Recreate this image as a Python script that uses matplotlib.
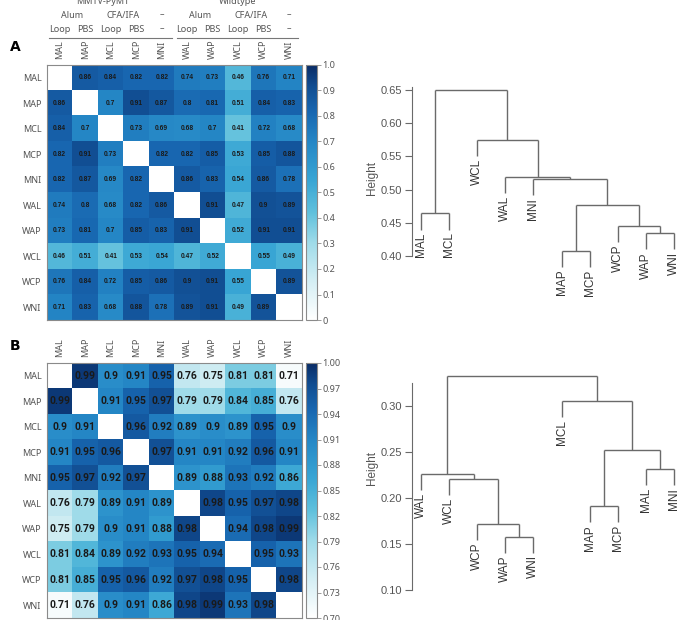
import numpy as np
import matplotlib
matplotlib.use("Agg")
import matplotlib.pyplot as plt
from matplotlib.colors import LinearSegmentedColormap

W, H = 686, 620

samples = ["MAL", "MAP", "MCL", "MCP", "MNI", "WAL", "WAP", "WCL", "WCP", "WNI"]

# panel A correlations (diagonal left blank)
corr_a = [
    [None, 0.86, 0.84, 0.82, 0.82, 0.74, 0.73, 0.46, 0.76, 0.71],
    [0.86, None, 0.7, 0.91, 0.87, 0.8, 0.81, 0.51, 0.84, 0.83],
    [0.84, 0.7, None, 0.73, 0.69, 0.68, 0.7, 0.41, 0.72, 0.68],
    [0.82, 0.91, 0.73, None, 0.82, 0.82, 0.85, 0.53, 0.85, 0.88],
    [0.82, 0.87, 0.69, 0.82, None, 0.86, 0.83, 0.54, 0.86, 0.78],
    [0.74, 0.8, 0.68, 0.82, 0.86, None, 0.91, 0.47, 0.9, 0.89],
    [0.73, 0.81, 0.7, 0.85, 0.83, 0.91, None, 0.52, 0.91, 0.91],
    [0.46, 0.51, 0.41, 0.53, 0.54, 0.47, 0.52, None, 0.55, 0.49],
    [0.76, 0.84, 0.72, 0.85, 0.86, 0.9, 0.91, 0.55, None, 0.89],
    [0.71, 0.83, 0.68, 0.88, 0.78, 0.89, 0.91, 0.49, 0.89, None],
]

# panel B correlations
corr_b = [
    [None, 0.99, 0.9, 0.91, 0.95, 0.76, 0.75, 0.81, 0.81, 0.71],
    [0.99, None, 0.91, 0.95, 0.97, 0.79, 0.79, 0.84, 0.85, 0.76],
    [0.9, 0.91, None, 0.96, 0.92, 0.89, 0.9, 0.89, 0.95, 0.9],
    [0.91, 0.95, 0.96, None, 0.97, 0.91, 0.91, 0.92, 0.96, 0.91],
    [0.95, 0.97, 0.92, 0.97, None, 0.89, 0.88, 0.93, 0.92, 0.86],
    [0.76, 0.79, 0.89, 0.91, 0.89, None, 0.98, 0.95, 0.97, 0.98],
    [0.75, 0.79, 0.9, 0.91, 0.88, 0.98, None, 0.94, 0.98, 0.99],
    [0.81, 0.84, 0.89, 0.92, 0.93, 0.95, 0.94, None, 0.95, 0.93],
    [0.81, 0.85, 0.95, 0.96, 0.92, 0.97, 0.98, 0.95, None, 0.98],
    [0.71, 0.76, 0.9, 0.91, 0.86, 0.98, 0.99, 0.93, 0.98, None],
]

cbar_ticks_a = [0, 0.1, 0.2, 0.3, 0.4, 0.5, 0.6, 0.7, 0.8, 0.9, 1.0]
cbar_labels_a = ["0", "0.1", "0.2", "0.3", "0.4", "0.5", "0.6", "0.7", "0.8", "0.9", "1.0"]
cbar_ticks_b = [0.70, 0.73, 0.76, 0.79, 0.82, 0.85, 0.88, 0.91, 0.94, 0.97, 1.00]

# header above panel A
groups = ["MMTV-PyMT", "Wildtype"]
adjuvants = ["Alum", "CFA/IFA", "–"]
treatments = ["Loop", "PBS", "Loop", "PBS", "–"]

# hierarchical clustering: (left, right, height); ints refer to earlier merges
merges_a = [
    ("MAP", "MCP", 0.408),
    ("WAP", "WNI", 0.434),
    ("WCP", 1, 0.445),
    ("MAL", "MCL", 0.464),
    (0, 2, 0.476),
    ("MNI", 4, 0.5155),
    ("WAL", 5, 0.519),
    ("WCL", 6, 0.574),
    (3, 7, 0.65),
]
merges_b = [
    ("WAP", "WNI", 0.158),
    ("WCP", 0, 0.172),
    ("MAP", "MCP", 0.191),
    ("WCL", 1, 0.220),
    ("WAL", 3, 0.226),
    ("MAL", "MNI", 0.231),
    (2, 5, 0.252),
    ("MCL", 6, 0.305),
    (4, 7, 0.332),
]
dendro_ticks_a = [0.40, 0.45, 0.50, 0.55, 0.60, 0.65]
dendro_ticks_b = [0.10, 0.15, 0.20, 0.25, 0.30]

cmap = LinearSegmentedColormap.from_list("corr", [
    (0.0, "#ffffff"), (0.15, "#d4eef4"), (0.3, "#9fdbe9"), (0.42, "#5fc0dc"),
    (0.55, "#38a5d4"), (0.7, "#2587c6"), (0.82, "#1866b0"), (0.92, "#114c90"),
    (1.0, "#0a2c66")])
cmap.set_bad("white")

GRAY = "#555555"
FRAME = "#8a8a8a"


def px_axes(fig, x0, y0, x1, y1):
    return fig.add_axes([x0 / W, 1 - y1 / H, (x1 - x0) / W, (y1 - y0) / H])


def heatmap(fig, box, cbox, corr, vmin, vmax, ticks, ticklabels, fs, family):
    ax = px_axes(fig, *box)
    m = np.array([[np.nan if v is None else v for v in row] for row in corr])
    im = ax.imshow(np.ma.masked_invalid(m), cmap=cmap, vmin=vmin, vmax=vmax,
                   aspect="auto", interpolation="nearest")
    n = len(samples)
    for i in range(n):
        for j in range(n):
            if corr[i][j] is not None:
                ax.text(j, i, f"{corr[i][j]:g}", ha="center", va="center",
                        fontsize=fs, fontweight="bold", color="#1a1a1a",
                        family=family)
    ax.set_xticks(range(n))
    ax.set_yticks(range(n))
    ax.set_xticklabels(samples, rotation=90, fontsize=6.5, color=GRAY,
                       family="Noto Sans")
    ax.set_yticklabels(samples, fontsize=6.5, color=GRAY, family="Noto Sans")
    ax.xaxis.tick_top()
    ax.tick_params(length=0, pad=4)
    for s in ax.spines.values():
        s.set_color(FRAME); s.set_linewidth(0.8)

    cax = px_axes(fig, *cbox)
    cb = fig.colorbar(im, cax=cax)
    cb.set_ticks(ticks)
    cb.set_ticklabels(ticklabels)
    cb.outline.set_edgecolor(FRAME)
    cb.outline.set_linewidth(0.8)
    cax.tick_params(length=3, width=0.6, color=FRAME, labelsize=6.5,
                    labelcolor=GRAY, pad=1)
    for t in cax.get_yticklabels():
        t.set_family("Noto Sans")
    return ax


def dendrogram(fig, box, merges, ylim, xlim, ticks, spine_top):
    ax = px_axes(fig, *box)
    heights = [m[2] for m in merges]
    hang = 0.1 * (max(heights) - min(heights))

    def leaves(node):
        if isinstance(node, str):
            return [node]
        return leaves(merges[node][0]) + leaves(merges[node][1])

    order = leaves(len(merges) - 1)
    xpos = {name: i + 1 for i, name in enumerate(order)}
    shift = matplotlib.transforms.ScaledTranslation(0, -2 / 72, fig.dpi_scale_trans)

    def draw(node):
        left, right, h = merges[node]
        pts = []
        for child in (left, right):
            if isinstance(child, str):
                x, y = xpos[child], h - hang
                ax.text(x, y, child, rotation=90, ha="center", va="top",
                        fontsize=8.5, color="#333333", family="Liberation Sans",
                        transform=ax.transData + shift)
            else:
                x, y = draw(child)
            ax.plot([x, x], [y, h], color="#6a6a6a", lw=1.0,
                    solid_capstyle="butt")
            pts.append(x)
        ax.plot(pts, [h, h], color="#6a6a6a", lw=1.0, solid_capstyle="butt")
        return sum(pts) / 2, h

    draw(len(merges) - 1)
    ax.set_xlim(*xlim)
    ax.set_ylim(*ylim)
    ax.set_xticks([])
    ax.set_yticks(ticks)
    ax.set_yticklabels([f"{t:.2f}" for t in ticks])
    ax.tick_params(axis="y", length=5, width=0.8, color="#6a6a6a",
                   labelsize=8, labelcolor=GRAY, pad=2)
    for t in ax.get_yticklabels():
        t.set_family("Liberation Sans")
    for s in ("top", "right", "bottom"):
        ax.spines[s].set_visible(False)
    ax.spines["left"].set_bounds(ticks[0], spine_top)
    ax.spines["left"].set_color("#6a6a6a")
    ax.spines["left"].set_linewidth(0.8)
    ax.patch.set_alpha(0)
    return ax


fig = plt.figure(figsize=(W / 100, H / 100), dpi=100)

heatmap(fig, (47, 65, 302, 320), (306, 65, 317, 320), corr_a, 0, 1,
        cbar_ticks_a, cbar_labels_a, 4.8, "Liberation Sans")
heatmap(fig, (47, 363, 302, 618), (306, 363, 317, 618), corr_b, 0.7, 1.0,
        cbar_ticks_b, [f"{t:.2f}" for t in cbar_ticks_b], 7.5,
        ["Roboto", "DejaVu Sans"])

# header rows above panel A
col_x = [47 + 25.5 * (i + 0.5) for i in range(10)]
hdr = dict(ha="center", va="center", fontsize=6.5, color=GRAY, family="Noto Sans")
for g, (gx, x0, x1) in enumerate([(103, 49, 172), (238, 177, 298)]):
    fig.text(gx / W, 1 - 1 / H, groups[g], **hdr)
    base = 5 * g
    fig.text((col_x[base] + col_x[base + 1]) / 2 / W, 1 - 15 / H, adjuvants[0], **hdr)
    fig.text((col_x[base + 2] + col_x[base + 3]) / 2 / W, 1 - 15 / H, adjuvants[1], **hdr)
    fig.text(col_x[base + 4] / W, 1 - 15 / H, adjuvants[2], **hdr)
    for k, lab in enumerate(treatments):
        fig.text(col_x[base + k] / W, 1 - 29 / H, lab, **hdr)
    fig.add_artist(plt.Line2D([x0 / W, x1 / W], [1 - 37.5 / H, 1 - 37.5 / H],
                              color="#777777", lw=0.8))

fig.text(15 / W, 1 - 47 / H, "A", fontsize=10, fontweight="bold",
         ha="center", va="center")
fig.text(15 / W, 1 - 346 / H, "B", fontsize=10, fontweight="bold",
         ha="center", va="center")

# dendrograms
dendrogram(fig, (412, 70, 686, 320), merges_a, (0.3036, 0.680), (0.68, 10.43),
           dendro_ticks_a, 0.654)
dendrogram(fig, (412, 370, 686, 610), merges_b, (0.0783, 0.3386), (0.68, 10.43),
           dendro_ticks_b, 0.324)
fig.text(372 / W, 1 - 178 / H, "Height", rotation=90, ha="center", va="center",
         fontsize=8.5, color=GRAY, family="Liberation Sans")
fig.text(372 / W, 1 - 468 / H, "Height", rotation=90, ha="center", va="center",
         fontsize=8.5, color=GRAY, family="Liberation Sans")

fig.savefig("out.png", dpi=100)
